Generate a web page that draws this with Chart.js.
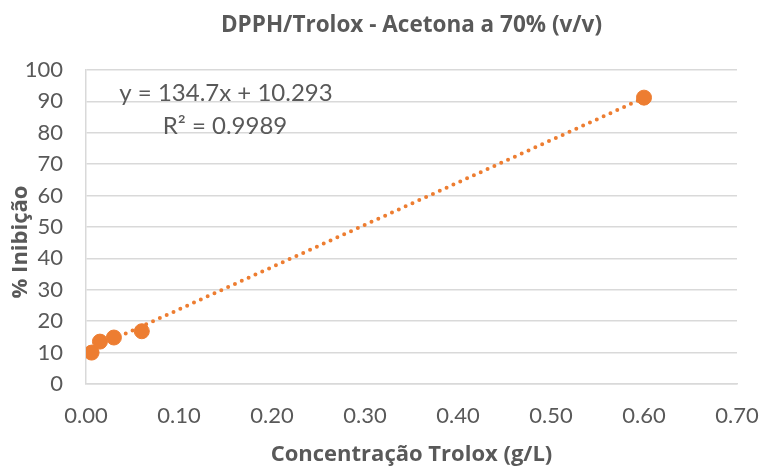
<!DOCTYPE html>
<html>
<head>
<meta charset="utf-8">
<script src="https://cdn.jsdelivr.net/npm/chart.js@4"></script>
<style>
  html, body { margin: 0; padding: 0; background: #fff; }
  #wrap { width: 761px; height: 468px; }
</style>
</head>
<body>
<div id="wrap"><canvas id="c" width="761" height="468"></canvas></div>
<script>
const concentrations = [0.006, 0.015, 0.030, 0.060, 0.600];
const inhibition = [10.0, 13.5, 14.8, 16.8, 91.2];
const slope = 134.7;
const intercept = 10.293;
const chartTitle = "DPPH/Trolox - Acetona a 70% (v/v)";
const xTitle = "Concentração Trolox (g/L)";
const yTitle = "% Inibição";
const eqLines = ["y = 134.7x + 10.293", "R² = 0.9989"];

const orange = "#ED7D31";
const grey = "#595959";
const tickFont = "Lato, 'Open Sans', sans-serif";
const boldFont = "'Open Sans', Lato, sans-serif";

const points = concentrations.map((x, i) => ({ x, y: inhibition[i] }));
const xFirst = concentrations[0];
const xLast = concentrations[concentrations.length - 1];
const trend = [
  { x: xFirst, y: slope * xFirst + intercept },
  { x: xLast, y: slope * xLast + intercept }
];

// titles and the trendline label, placed the way Excel put them
const labels = {
  id: "labels",
  afterDraw(chart) {
    const c = chart.ctx;
    const a = chart.chartArea;
    const mid = (a.left + a.right) / 2;
    c.save();
    c.fillStyle = grey;
    c.textAlign = "center";
    c.textBaseline = "alphabetic";

    c.font = "bold 22.5px " + boldFont;
    c.fillText(chartTitle, mid, 32);
    c.font = "bold 22px " + boldFont;
    c.fillText(xTitle, mid, 461);

    c.save();
    c.translate(27, 242);
    c.rotate(-Math.PI / 2);
    c.fillText(yTitle, 0, 0);
    c.restore();

    c.font = "24px " + tickFont;
    c.fillText(eqLines[0], 226, 101);
    c.fillText(eqLines[1], 225, 134);
    c.restore();
  }
};

new Chart(document.getElementById("c"), {
  type: "scatter",
  data: {
    datasets: [
      {
        data: points,
        backgroundColor: orange,
        borderColor: orange,
        pointRadius: 7.5,
        order: 0
      },
      {
        type: "line",
        data: trend,
        borderColor: orange,
        borderWidth: 4,
        borderDash: [0, 7.5],
        borderCapStyle: "round",
        pointRadius: 0,
        fill: false,
        order: 1
      }
    ]
  },
  options: {
    responsive: false,
    animation: false,
    layout: { padding: { left: 0, right: 24, top: 70, bottom: 0 } },
    plugins: {
      legend: { display: false },
      tooltip: { enabled: false },
      title: { display: false }
    },
    scales: {
      x: {
        type: "linear",
        min: 0,
        max: 0.7,
        ticks: {
          stepSize: 0.1,
          color: grey,
          font: { family: tickFont, size: 22 },
          callback: v => v.toFixed(2),
          padding: 19
        },
        grid: { display: false, drawTicks: false },
        border: { display: true, color: "#d9d9d9", width: 1.5 },
        afterFit: s => {
          s.height = 84;
          s.paddingLeft = 0;
          s.paddingRight = 0;
        }
      },
      y: {
        min: 0,
        max: 100,
        ticks: {
          stepSize: 10,
          color: grey,
          font: { family: tickFont, size: 22 },
          padding: 23
        },
        grid: { color: "#d9d9d9", lineWidth: 1.5, drawTicks: false },
        border: { display: true, color: "#d9d9d9", width: 1.5 },
        afterFit: s => {
          s.width = 86;
          s.paddingTop = 0;
          s.paddingBottom = 0;
        }
      }
    }
  },
  plugins: [labels]
});
</script>
</body>
</html>
